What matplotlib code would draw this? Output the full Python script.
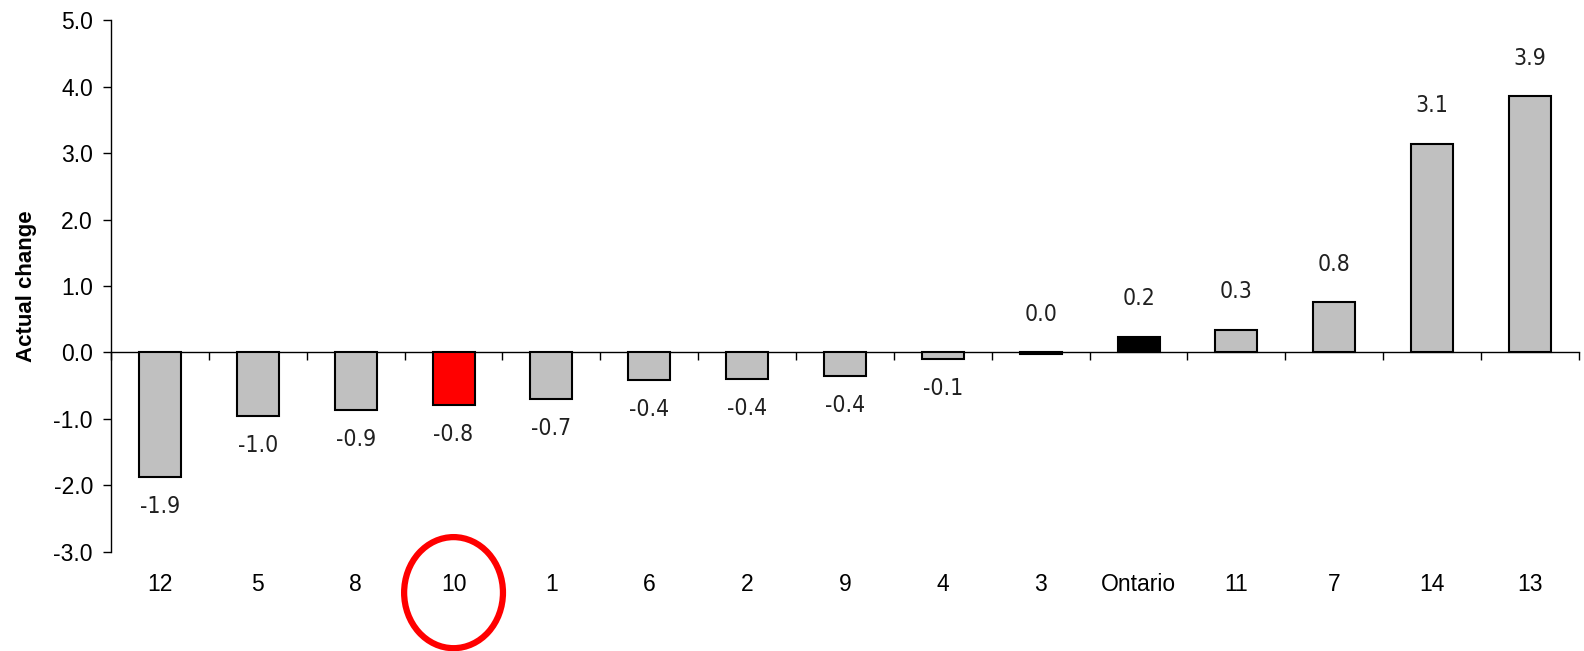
import numpy as np
import matplotlib.pyplot as plt
from matplotlib.patches import Ellipse
from matplotlib.transforms import blended_transform_factory

regions = ["12", "5", "8", "10", "1", "6", "2", "9", "4", "3", "Ontario", "11", "7", "14", "13"]
change = [-1.88, -0.96, -0.86, -0.79, -0.70, -0.41, -0.40, -0.36, -0.10, -0.03,
          0.24, 0.34, 0.76, 3.14, 3.86]
highlight = "10"
total = "Ontario"

plt.rcParams['font.family'] = ['Liberation Sans', 'DejaVu Sans']

fig = plt.figure(figsize=(15.84, 6.51), dpi=100)
ax = fig.add_axes([0.0701, 0.1525, 0.9267, 0.8163])

x = np.arange(len(regions))
colors = []
for r in regions:
    if r == highlight:
        colors.append("#ff0000")
    elif r == total or r == "3":
        colors.append("black")
    else:
        colors.append("#c0c0c0")

ax.bar(x, change, width=0.43, color=colors, edgecolor="black", linewidth=1.5, zorder=3)

# value labels above / below each bar
label_font = dict(fontsize=16.5, family=['Liberation Sans Narrow', 'DejaVu Sans'],
                  fontstretch='condensed', color="#202020")
for xi, v in zip(x, change):
    shown = round(v, 1) + 0.0
    if shown >= 0:
        ax.annotate(f"{shown:.1f}", (xi, max(v, 0)), xytext=(0, 19), textcoords="offset points",
                    ha="center", va="bottom", **label_font)
    else:
        ax.annotate(f"{shown:.1f}", (xi, v), xytext=(0, -13), textcoords="offset points",
                    ha="center", va="top", **label_font)

ax.set_xlim(-0.5, len(regions) - 0.5)
ax.set_ylim(-3, 5)
ax.set_yticks(np.arange(-3, 6, 1))
ax.set_yticklabels([f"{t:.1f}" for t in np.arange(-3, 6, 1)])
ax.set_xticks(x)
ax.set_xticklabels(regions)
ax.tick_params(axis="x", length=0, pad=15, labelsize=16.5)
ax.tick_params(axis="y", direction="out", length=6, width=1, pad=7, labelsize=16.5)
ax.set_ylabel("Actual change", fontsize=16, fontweight="bold", labelpad=12)

for s in ["top", "right", "bottom"]:
    ax.spines[s].set_visible(False)
ax.spines["left"].set_linewidth(1)

# zero line with category separators
zero = ax.secondary_xaxis(3 / 8)
zero.set_xticks(np.arange(-0.5, len(regions), 1))
zero.tick_params(direction="out", length=6, width=1, labelbottom=False, labeltop=False)
zero.spines["bottom"].set_linewidth(1)

# circle around the highlighted region label
trans = blended_transform_factory(ax.transData, ax.transAxes)
ax.add_patch(Ellipse((regions.index(highlight), -0.077), 1.01, 0.209, transform=trans,
                     fill=False, edgecolor="#ff0000", linewidth=4.5, clip_on=False))

fig.savefig("out.png", dpi=100)
